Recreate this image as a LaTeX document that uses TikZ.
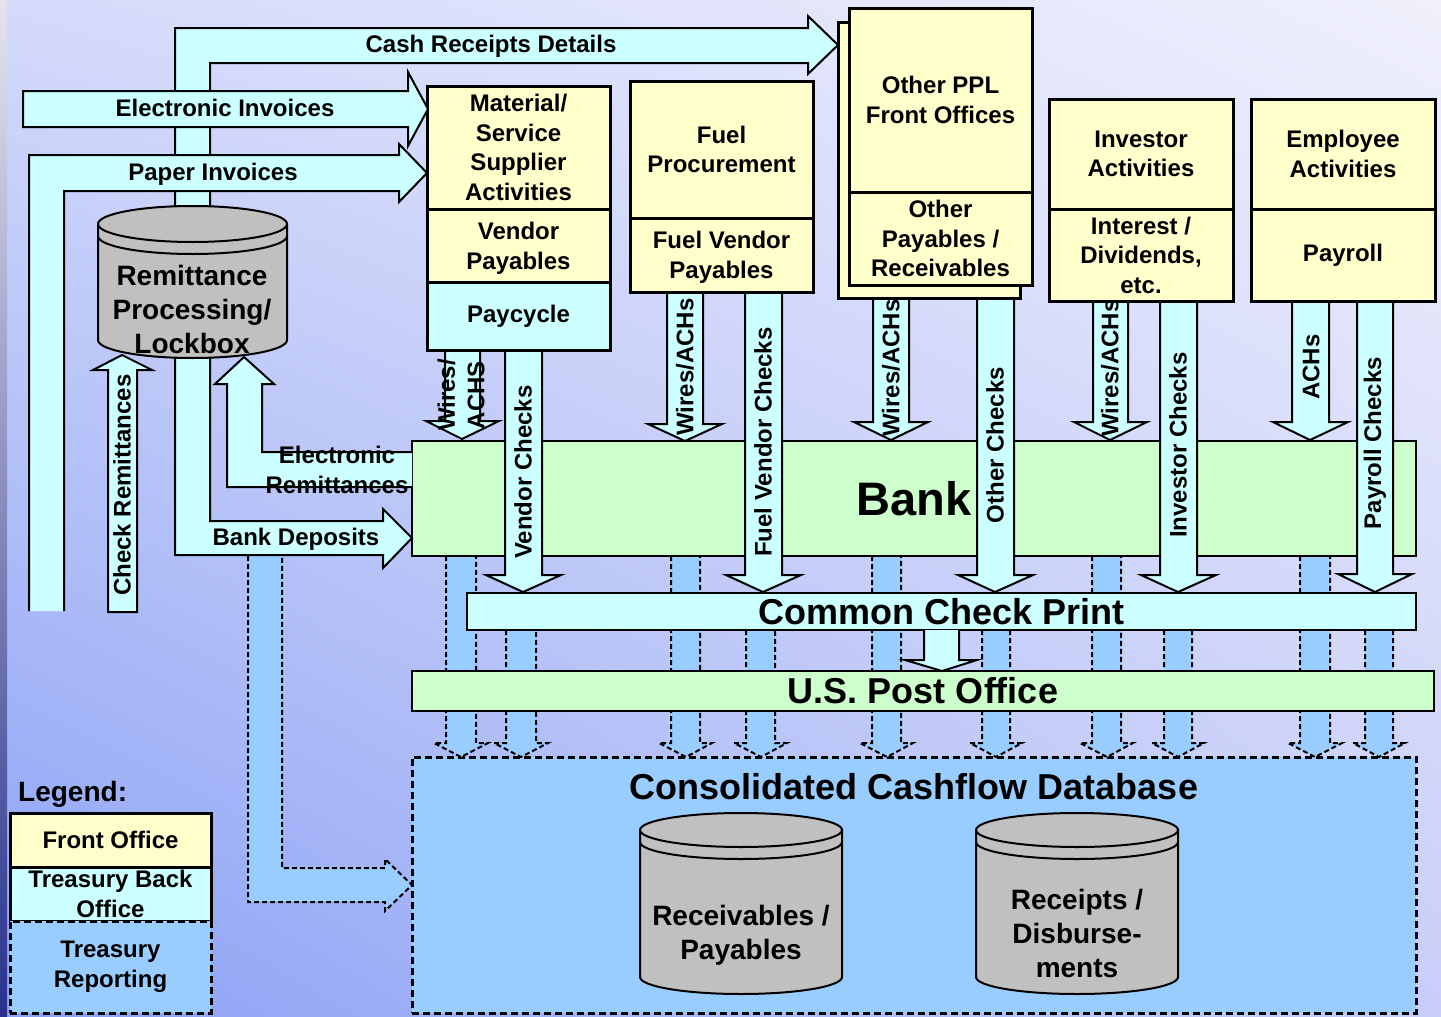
\documentclass[tikz,border=0pt]{standalone}
\usepackage{fontspec}
\setmainfont{Liberation Sans}
\usepackage{xcolor}
\usetikzlibrary{shadings}
\definecolor{frontyel}{HTML}{FFFFCC}
\definecolor{backcyan}{HTML}{CCFFFF}
\definecolor{bankgreen}{HTML}{CCFFCC}
\definecolor{reportblue}{HTML}{99CCFF}
\definecolor{dbgray}{HTML}{C0C0C0}
\definecolor{bgtl}{RGB}{212,218,250}
\definecolor{bgtr}{RGB}{240,240,252}
\definecolor{bgbl}{RGB}{138,160,245}
\definecolor{bgbr}{RGB}{200,206,248}
\definecolor{edgetop}{RGB}{228,228,238}
\definecolor{edgebot}{RGB}{40,50,140}

\begin{document}
\begin{tikzpicture}[
    x=1pt, y=-1pt,
    txt/.style={font=\fontsize{24}{29.5}\selectfont\bfseries, align=center, inner sep=0pt},
    vtxt/.style={txt, rotate=90},
    bigtxt/.style={font=\fontsize{36}{40}\selectfont\bfseries, align=center, inner sep=0pt},
    dbtxt/.style={font=\fontsize{28}{34}\selectfont\bfseries, align=center, inner sep=0pt},
    cell/.style={draw, line width=3pt, anchor=north west, inner sep=0pt, outer sep=0pt, align=center, font=\fontsize{24}{29.5}\selectfont\bfseries},
    front/.style={cell, fill=frontyel},
    backoff/.style={cell, fill=backcyan},
    report/.style={cell, fill=reportblue, dash pattern=on 7pt off 4pt},
    bar/.style={draw, line width=2pt, anchor=north west, inner sep=0pt, outer sep=0pt, font=\fontsize{36}{40}\selectfont\bfseries},
    band/.style={draw, line width=2pt, fill=backcyan, line join=miter},
    rband/.style={draw, line width=2pt, fill=reportblue, dash pattern=on 5pt off 3pt},
    dbase/.style={draw, line width=2pt, fill=dbgray}
  ]
    \useasboundingbox (0,0) rectangle (1441,1017);
    \shade[upper left=bgtl, upper right=bgtr, lower left=bgbl, lower right=bgbr] (0,0) rectangle (1441,1017);
    \shade[top color=edgetop, bottom color=edgebot] (0,0) rectangle (7,1017);

    \node[report, minimum width=1004pt, minimum height=256pt] (ccdb) at (412,757) {};
    \node[bigtxt] (ccdbtitle) at (914,787) {Consolidated Cashflow Database};

    \filldraw[dbase] (640,830) -- (640,977) arc[start angle=180, end angle=360, x radius=101pt, y radius=17pt] -- (842,830) arc[start angle=0, end angle=180, x radius=101pt, y radius=17pt] -- cycle;
    \draw[line width=2pt] (640,830) arc[start angle=180, end angle=360, x radius=101pt, y radius=17pt];
    \draw[line width=2pt] (640,842) arc[start angle=180, end angle=360, x radius=101pt, y radius=17pt];
    \node[dbtxt] (recpay) at (741,935) {Receivables /\\Payables};
    \filldraw[dbase] (976,830) -- (976,977) arc[start angle=180, end angle=360, x radius=101pt, y radius=17pt] -- (1178,830) arc[start angle=0, end angle=180, x radius=101pt, y radius=17pt] -- cycle;
    \draw[line width=2pt] (976,830) arc[start angle=180, end angle=360, x radius=101pt, y radius=17pt];
    \draw[line width=2pt] (976,842) arc[start angle=180, end angle=360, x radius=101pt, y radius=17pt];
    \node[dbtxt] (recdis) at (1077,933) {Receipts /\\Disburse-\\ments};

    \draw[rband] (248,556) -- (248,902) -- (385,902) -- (385,911) -- (412,885) -- (385,859) -- (385,868) -- (282,868) -- (282,556);
    \draw[rband] (446,556) -- (446,743) -- (434,743) -- (461,757) -- (488,743) -- (476,743) -- (476,556);
    \draw[rband] (506,630) -- (506,743) -- (494,743) -- (521,757) -- (548,743) -- (536,743) -- (536,630);
    \draw[rband] (671,556) -- (671,743) -- (659,743) -- (686,757) -- (712,743) -- (700,743) -- (700,556);
    \draw[rband] (746,630) -- (746,743) -- (734,743) -- (761,757) -- (787,743) -- (775,743) -- (775,630);
    \draw[rband] (872,556) -- (872,743) -- (860,743) -- (887,757) -- (913,743) -- (901,743) -- (901,556);
    \draw[rband] (982,630) -- (982,743) -- (970,743) -- (996,757) -- (1022,743) -- (1010,743) -- (1010,630);
    \draw[rband] (1092,556) -- (1092,743) -- (1080,743) -- (1107,757) -- (1133,743) -- (1121,743) -- (1121,556);
    \draw[rband] (1164,630) -- (1164,743) -- (1152,743) -- (1178,757) -- (1204,743) -- (1192,743) -- (1192,630);
    \draw[rband] (1300,556) -- (1300,743) -- (1288,743) -- (1315,757) -- (1342,743) -- (1330,743) -- (1330,556);
    \draw[rband] (1365,630) -- (1365,743) -- (1353,743) -- (1379,757) -- (1405,743) -- (1393,743) -- (1393,630);

    \node[bar, fill=bankgreen, minimum width=1004pt, minimum height=115pt, font=\fontsize{47}{50}\selectfont\bfseries] (bank) at (412,441) {Bank};
    \node[bar, fill=backcyan, minimum width=949pt, minimum height=37pt] (ccp) at (467,593) {Common Check Print};
    \node[bar, fill=bankgreen, minimum width=1022pt, minimum height=40pt] (usps) at (412,671) {U.S. Post Office};
    \draw[band] (924,630) -- (924,660) -- (905,660) -- (942,671) -- (977,660) -- (959,660) -- (959,630);

    \draw[band] (445,350) -- (445,421) -- (426,421) -- (462,439) -- (499,421) -- (480,421) -- (480,350);
    \draw[band] (505,350) -- (505,575) -- (486,575) -- (523,592) -- (561,575) -- (542,575) -- (542,350);
    \draw[band] (667,292) -- (667,424) -- (648,424) -- (685,441) -- (722,424) -- (703,424) -- (703,292);
    \draw[band] (745,292) -- (745,575) -- (726,575) -- (763,592) -- (801,575) -- (782,575) -- (782,292);
    \draw[band] (873,298) -- (873,422) -- (854,422) -- (891,440) -- (928,422) -- (909,422) -- (909,298);
    \draw[band] (977,298) -- (977,575) -- (958,575) -- (995,592) -- (1033,575) -- (1014,575) -- (1014,298);
    \draw[band] (1093,301) -- (1093,422) -- (1074,422) -- (1110,440) -- (1147,422) -- (1128,422) -- (1128,301);
    \draw[band] (1160,301) -- (1160,575) -- (1141,575) -- (1178,592) -- (1216,575) -- (1197,575) -- (1197,301);
    \draw[band] (1292,301) -- (1292,422) -- (1273,422) -- (1310,440) -- (1348,422) -- (1329,422) -- (1329,301);
    \draw[band] (1357,301) -- (1357,574) -- (1338,574) -- (1375,592) -- (1412,574) -- (1393,574) -- (1393,301);
    \node[vtxt] (matwire) at (461,395) {Wires/\\ACHS};
    \node[vtxt] (matchk) at (523,472) {Vendor Checks};
    \node[vtxt] (fuelwire) at (685,367) {Wires/ACHs};
    \node[vtxt] (fuelchk) at (763,442) {Fuel Vendor Checks};
    \node[vtxt] (pplwire) at (891,368) {Wires/ACHs};
    \node[vtxt] (pplchk) at (995,445) {Other Checks};
    \node[vtxt] (invwire) at (1110,368) {Wires/ACHs};
    \node[vtxt] (invchk) at (1178,445) {Investor Checks};
    \node[vtxt] (empach) at (1311,367) {ACHs};
    \node[vtxt] (empchk) at (1375,443) {Payroll Checks};

    \node[front, minimum width=183pt, minimum height=123pt] (mat) at (427,86) {Material/\\Service\\Supplier\\Activities};
    \node[front, minimum width=183pt, minimum height=73pt] (matpay) at (427,209) {\rule{0pt}{23pt}Vendor\\Payables};
    \node[backoff, minimum width=183pt, minimum height=68pt] (paycycle) at (427,282) {Paycycle};
    \node[front, minimum width=183pt, minimum height=137pt] (fuel) at (630,81) {Fuel\\Procurement};
    \node[front, minimum width=183pt, minimum height=74pt] (fuelpay) at (630,218) {\rule{0pt}{22pt}Fuel Vendor\\Payables};
    \node[front, minimum width=182pt, minimum height=276pt] (pplback) at (838,22) {};
    \node[front, minimum width=183pt, minimum height=184pt] (ppl) at (849,8) {Other PPL\\Front Offices};
    \node[front, minimum width=183pt, minimum height=93pt] (pplpay) at (849,192) {Other\\Payables /\\Receivables};
    \node[front, minimum width=184pt, minimum height=110pt] (inv) at (1049,99) {Investor\\Activities};
    \node[front, minimum width=184pt, minimum height=92pt] (invint) at (1049,209) {Interest /\\Dividends,\\etc.};
    \node[front, minimum width=184pt, minimum height=110pt] (emp) at (1251,99) {Employee\\Activities};
    \node[front, minimum width=184pt, minimum height=92pt] (payroll) at (1251,209) {Payroll};

    \draw[band] (808,63) -- (808,74) -- (838,45) -- (808,16) -- (808,28) -- (175,28) -- (175,555) -- (383,555) -- (383,568) -- (412,538) -- (383,509) -- (383,521) -- (210,521) -- (210,63) -- cycle;
    \draw[band] (23,91) -- (408,91) -- (408,72) -- (428,109) -- (408,146) -- (408,127) -- (23,127) -- cycle;
    \draw[band] (29,611) -- (29,155) -- (399,155) -- (399,144) -- (427,173) -- (399,202) -- (399,191) -- (64,191) -- (64,611);
    \draw[band] (108,612) -- (108,370) -- (93,370) -- (122,355) -- (152,370) -- (137,370) -- (137,612) -- cycle;
    \draw[band] (412,452) -- (262,452) -- (262,384) -- (274,384) -- (244,357) -- (215,384) -- (227,384) -- (227,487) -- (412,487);
    \node[txt] (cashlbl) at (491,46) {Cash Receipts Details};
    \node[txt] (einvlbl) at (225,108) {Electronic Invoices};
    \node[txt] (pinvlbl) at (213,174) {Paper Invoices};
    \node[vtxt] (chklbl) at (122,485) {Check Remittances};
    \node[txt] (eremlbl) at (337,470) {Electronic\\Remittances};
    \node[txt] (deplbl) at (296,539) {Bank Deposits};

    \filldraw[dbase] (98,224) -- (98,340) arc[start angle=180, end angle=360, x radius=94.5pt, y radius=18pt] -- (287,224) arc[start angle=0, end angle=180, x radius=94.5pt, y radius=18pt] -- cycle;
    \draw[line width=2pt] (98,224) arc[start angle=180, end angle=360, x radius=94.5pt, y radius=18pt];
    \draw[line width=2pt] (98,236) arc[start angle=180, end angle=360, x radius=94.5pt, y radius=18pt];
    \node[dbtxt] (lockbox) at (192,309) {Remittance\\Processing/\\Lockbox};

    \node[font=\fontsize{28}{32}\selectfont\bfseries, inner sep=0pt, anchor=west] (legend) at (18,794) {Legend:};
    \node[front, minimum width=201pt, minimum height=54pt] (lgfront) at (10,813) {Front Office};
    \node[backoff, minimum width=201pt, minimum height=54pt] (lgback) at (10,867) {Treasury Back\\Office};
    \node[report, minimum width=201pt, minimum height=92pt] (lgrep) at (10,921) {Treasury\\Reporting};
\end{tikzpicture}
\end{document}
